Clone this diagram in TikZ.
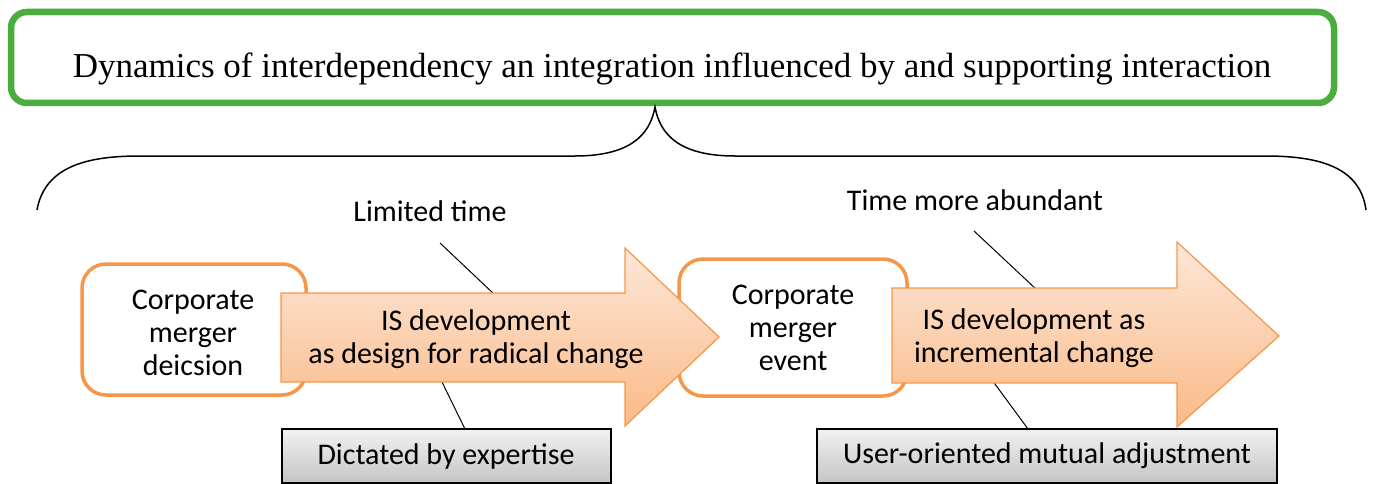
\documentclass[tikz,border=0pt]{standalone}
\usepackage{fontspec}
\setmainfont{Liberation Serif}
\newfontfamily\bodyfont{Carlito}
\begin{document}
\definecolor{frameGreen}{HTML}{4AAE3E}
\definecolor{mergeOrange}{HTML}{F79646}
\definecolor{peachTop}{HTML}{FDE7D8}
\definecolor{peachBottom}{HTML}{FABA88}
\definecolor{greyTop}{HTML}{F2F2F2}
\definecolor{greyBottom}{HTML}{C4C4C4}
\begin{tikzpicture}[x=1pt,y=-1pt,
  headline/.style={draw=frameGreen,line width=6.5pt,rounded corners=16pt,fill=white},
  eventbox/.style={draw=mergeOrange,line width=3.5pt,rounded corners=24pt,fill=white},
  phasearrow/.style={draw=mergeOrange,line width=1.2pt,line join=miter,top color=peachTop,bottom color=peachBottom},
  modebox/.style={draw=black,line width=1.2pt,top color=greyTop,bottom color=greyBottom},
  bodytext/.style={font=\bodyfont\fontsize{30}{33}\selectfont,align=center,inner sep=0pt},
  leader/.style={draw=black,line width=1pt}]
\useasboundingbox (0,0) rectangle (1373,484);

% headline frame and its text
\draw[headline] (11,12) rectangle (1334,103);
\node[inner sep=0pt,font=\fontsize{35}{40}\selectfont] (title) at (672,69)
  {Dynamics of interdependency an integration influenced by and supporting interaction};

% brace spanning both phases
\coordinate (tip) at (655,107);
\coordinate (bl) at (37,210);
\coordinate (br) at (1366,210);
\draw[line width=1.5pt] (bl) .. controls (45,165) and (90,156) .. (140,156)
  -- (575,156) .. controls (630,156) and (650,135) .. (tip)
  .. controls (660,135) and (680,156) .. (735,156)
  -- (1265,156) .. controls (1315,156) and (1360,165) .. (br);

% labels on time
\node[bodytext] (ltime) at (430,211) {Limited time};
\node[bodytext] (atime) at (975,200) {Time more abundant};

% leader lines (behind the arrows)
\coordinate (l1a) at (440,243);
\coordinate (l1b) at (495,295);
\coordinate (l2a) at (441,380);
\coordinate (l2b) at (465,429);
\coordinate (r1a) at (974,231);
\coordinate (r1b) at (1037,290);
\coordinate (r2a) at (992,380);
\coordinate (r2b) at (1028,429);
\draw[leader] (l1a) -- (l1b);
\draw[leader] (l2a) -- (l2b);
\draw[leader] (r1a) -- (r1b);
\draw[leader] (r2a) -- (r2b);

% merger milestones
\draw[eventbox] (82,264) rectangle (306,395);
\node[bodytext] (decision) at (193,333) {Corporate\\merger\\deicsion};
\draw[eventbox] (679,259) rectangle (907,396);
\node[bodytext] (event) at (793,328) {Corporate\\merger\\event};

% development phases
\draw[phasearrow] (281,293) -- (625,293) -- (625,248) -- (719,337) -- (625,426) -- (625,382) -- (281,382) -- cycle;
\node[bodytext] (radical) at (476,339) {IS development\\as design for radical change};
\draw[phasearrow] (892,288) -- (1177,288) -- (1177,242) -- (1279,336) -- (1177,427) -- (1177,383) -- (892,383) -- cycle;
\node[bodytext] (incremental) at (1034,338) {IS development as\\incremental change};

% modes of development
\draw[modebox] (282,429) rectangle (611,483);
\node[bodytext] (expertise) at (446,456) {Dictated by expertise};
\draw[modebox] (817,429) rectangle (1277,483);
\node[bodytext] (mutual) at (1047,456) {User-oriented mutual adjustment};
\end{tikzpicture}
\end{document}
